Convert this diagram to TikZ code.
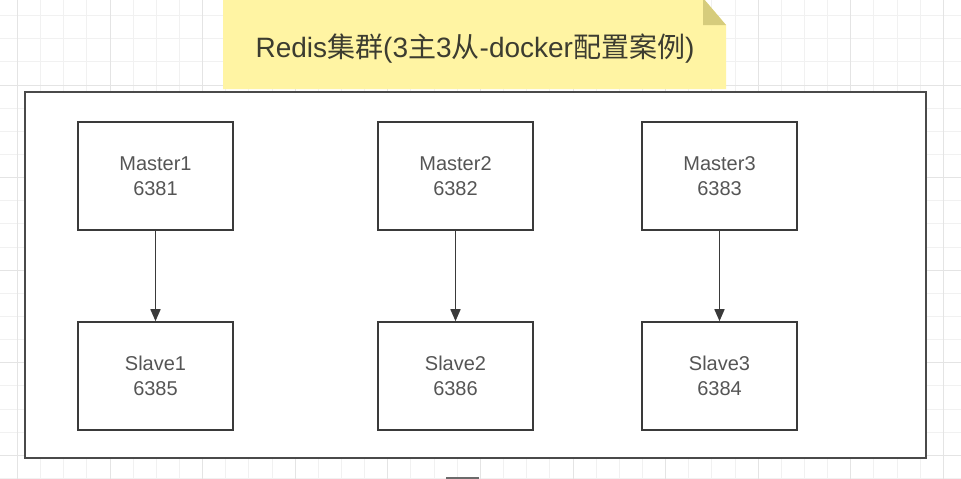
\documentclass[tikz,border=0pt]{standalone}
\usepackage{fontspec}
\setmainfont{Liberation Sans}
\newfontfamily\cjk{Noto Sans CJK SC}
\usetikzlibrary{arrows.meta}
\definecolor{gridminor}{HTML}{F1F1F1}
\definecolor{gridmajor}{HTML}{E4E4E4}
\definecolor{noteyellow}{HTML}{FFF4A3}
\definecolor{notefold}{HTML}{D6CC7C}
\definecolor{edge}{HTML}{3A3A3A}
\definecolor{outer}{HTML}{4A4A4A}
\definecolor{txt}{HTML}{555555}
\definecolor{titletxt}{HTML}{3C3C30}
\tikzset{
  srv/.style={draw=edge, line width=1.6pt, fill=white, minimum width=155pt,
    minimum height=108pt, inner sep=0pt, align=center, text=txt,
    font=\fontsize{20}{25}\selectfont},
  link/.style={draw=edge, line width=1.6pt, -{Triangle[width=10pt,length=12pt]}}
}
\begin{document}
\begin{tikzpicture}[x=1pt,y=-1pt]
\useasboundingbox (0,0) rectangle (961,479);
\fill[white] (0,0) rectangle (961,479);
\begin{scope}
  \clip (0,0) rectangle (961,479);
  \foreach \k in {-5,...,37} {\draw[gridminor, line width=1pt] ({110+23.15*\k},0) -- ++(0,479);}
  \foreach \k in {-4,...,17} {\draw[gridminor, line width=1pt] (0,{85+23.15*\k}) -- ++(961,0);}
  \foreach \k in {-1,...,9} {\draw[gridmajor, line width=1pt] ({110+92.6*\k},0) -- ++(0,479);}
  \foreach \k in {-1,...,4} {\draw[gridmajor, line width=1pt] (0,{85+92.6*\k}) -- ++(961,0);}
  % fragment of a shape cut by the lower edge
  \draw[line width=1.8pt, edge!75] (446,478) -- (479,478);
\end{scope}

% outer cluster frame
\node (cluster) [draw=outer, line width=2.2pt, fill=white, minimum width=901pt,
  minimum height=366pt, inner sep=0pt] at (475.5,275) {};

% note with folded corner
\fill[noteyellow] (223,-2) -- (703,-2) -- (726,25) -- (726,89) -- (223,89) -- cycle;
\fill[notefold] (703,-2) -- (703,25) -- (726,25) -- cycle;
\node (title) [text=titletxt, font=\fontsize{28}{32}\selectfont] at (475,49)
  {Redis{\cjk 集群}(3{\cjk 主}3{\cjk 从}-docker{\cjk 配置案例})};

% servers
\node[srv] (m1) at (155.5,176) {Master1\\6381};
\node[srv] (m2) at (455.5,176) {Master2\\6382};
\node[srv] (m3) at (719.5,176) {Master3\\6383};
\node[srv] (s1) at (155.5,376) {Slave1\\6385};
\node[srv] (s2) at (455.5,376) {Slave2\\6386};
\node[srv] (s3) at (719.5,376) {Slave3\\6384};

\draw[link] (m1) -- (s1);
\draw[link] (m2) -- (s2);
\draw[link] (m3) -- (s3);
\end{tikzpicture}
\end{document}
